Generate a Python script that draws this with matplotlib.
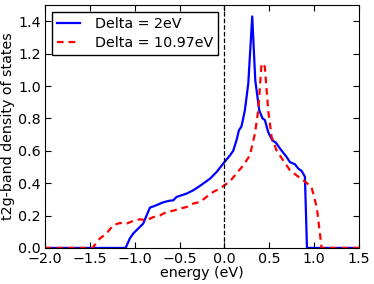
import matplotlib
matplotlib.use('Agg')
from matplotlib import pyplot as plt

# Delta = 2eV
e_blue = [-2.0, -1.1, -1.054, -1.016, -0.905, -0.83, -0.757, -0.682, -0.608, -0.57,
          -0.533, -0.42, -0.347, -0.273, -0.16, -0.087, 0.0, 0.06, 0.098, 0.135,
          0.162, 0.19, 0.228, 0.266, 0.31, 0.344, 0.388, 0.425, 0.451, 0.488,
          0.533, 0.574, 0.619, 0.693, 0.73, 0.786, 0.823, 0.86, 0.897, 0.92, 1.5]
dos_blue = [0.0, 0.0, 0.058, 0.089, 0.15, 0.249, 0.264, 0.282, 0.292, 0.294,
            0.315, 0.336, 0.356, 0.383, 0.428, 0.469, 0.53, 0.57, 0.60, 0.665,
            0.727, 0.75, 0.85, 1.015, 1.43, 1.035, 0.85, 0.80, 0.79, 0.716,
            0.665, 0.65, 0.614, 0.562, 0.53, 0.517, 0.49, 0.476, 0.44, 0.0, 0.0]

# Delta = 10.97eV
e_red = [-2.0, -1.47, -1.388, -1.314, -1.24, -1.165, -1.09, -1.016, -0.94, -0.868,
         -0.794, -0.72, -0.645, -0.57, -0.496, -0.42, -0.347, -0.273, -0.2, -0.125,
         -0.05, 0.0, 0.06, 0.135, 0.21, 0.284, 0.34, 0.377, 0.414, 0.45,
         0.488, 0.526, 0.58, 0.656, 0.73, 0.823, 0.897, 0.97, 1.03, 1.083, 1.5]
dos_red = [0.0, 0.0, 0.058, 0.089, 0.14, 0.154, 0.15, 0.167, 0.177, 0.171,
           0.19, 0.20, 0.222, 0.23, 0.243, 0.253, 0.274, 0.284, 0.315, 0.346,
           0.366, 0.387, 0.41, 0.46, 0.51, 0.572, 0.706, 0.85, 1.14, 1.12,
           0.85, 0.686, 0.603, 0.54, 0.48, 0.44, 0.41, 0.377, 0.25, 0.0, 0.0]

plt.rcParams['font.size'] = 10.3
fig = plt.figure(figsize=(3.74, 2.84), dpi=100)
ax = fig.add_axes([0.12, 0.127, 0.84, 0.855])

ax.plot(e_blue, dos_blue, c='blue', lw=1.6, label='Delta = 2eV')
ax.plot(e_red, dos_red, c='red', lw=1.6, ls=(0, (3, 2.2)), label='Delta = 10.97eV')
ax.axvline(0, c='black', ls='--', lw=0.9)

ax.set_xlim(-2.0, 1.5)
ax.set_ylim(0, 1.5)
ax.set_yticks([0.0, 0.2, 0.4, 0.6, 0.8, 1.0, 1.2, 1.4])
ax.set_xlabel('energy (eV)', labelpad=0)
ax.set_ylabel('t2g-band density of states', labelpad=2)
ax.tick_params(direction='in', top=True, right=True, length=4, pad=3)
for s in ax.spines.values():
    s.set_linewidth(0.8)

leg = ax.legend(loc='upper left', fancybox=False, handlelength=1.6,
                borderaxespad=0.5, framealpha=1, borderpad=0.35,
                labelspacing=0.3, handletextpad=1.05)
leg.get_frame().set_edgecolor('black')

fig.savefig('out.png', dpi=100)
